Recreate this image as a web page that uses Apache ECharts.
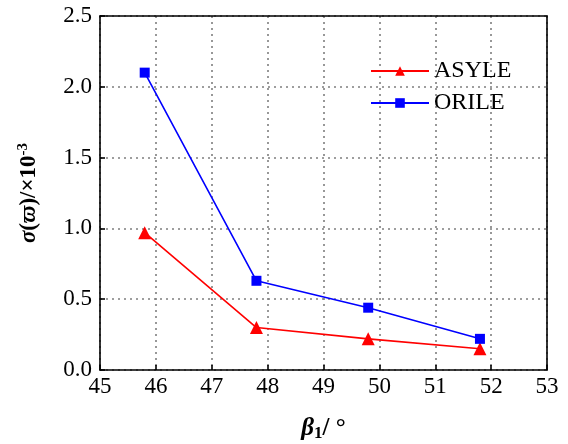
<!DOCTYPE html>
<html>
<head>
<meta charset="utf-8">
<script src="https://cdn.jsdelivr.net/npm/echarts@6/dist/echarts.min.js"></script>
<style>
  html, body { margin: 0; padding: 0; background: #fff; }
  #chart { width: 568px; height: 444px; }
</style>
</head>
<body>
<div id="chart"></div>
<script>
// Blade angle β1 (degrees) and the measured deviation for two profile designs
const beta1 = [45.8, 47.8, 49.8, 51.8];
const asyle = [0.97, 0.30, 0.22, 0.15];
const orile = [2.10, 0.63, 0.44, 0.22];

const xTicks = { min: 45, max: 53, interval: 1 };
const yTicks = { min: 0, max: 2.5, interval: 0.5 };

const FONT = '"Liberation Serif", serif';

const chart = echarts.init(document.getElementById('chart'), null, { renderer: 'canvas', width: 568, height: 444 });

const gridLine = { show: true, lineStyle: { color: '#7f7f7f', width: 1.6, type: [2, 4] } };
const frame = { show: true, onZero: false, lineStyle: { color: '#000', width: 1.6 } };
const tickText = { fontFamily: FONT, fontSize: 23, color: '#000' };

chart.setOption({
  animation: false,
  backgroundColor: '#fff',
  textStyle: { fontFamily: FONT },
  grid: { left: 100, width: 447, top: 16, height: 354, containLabel: false, outerBoundsMode: 'none' },
  legend: {
    left: 370, top: 59, padding: 0, orient: 'vertical', itemGap: 8,
    itemWidth: 58, itemHeight: 12,
    formatter: '{t|{name}}',
    textStyle: { fontFamily: FONT, fontSize: 24, color: '#000', rich: { t: { fontFamily: FONT, fontSize: 24, color: '#000' } } },
    data: ['ASYLE', 'ORILE']
  },
  xAxis: [{
    type: 'value', ...xTicks, position: 'bottom',
    axisLine: frame,
    axisTick: { show: true, inside: true, length: 5, lineStyle: { color: '#000', width: 1.6 } },
    axisLabel: { margin: 5, formatter: v => '{t|' + v + '}', rich: { t: tickText } },
    splitLine: gridLine,
    name: '{b|β}{s|1}{n|/ °}', nameLocation: 'middle', nameGap: 46,
    nameTextStyle: {
      rich: {
        b: { fontFamily: FONT, fontSize: 25, fontWeight: 'bold', fontStyle: 'italic', color: '#000' },
        s: { fontFamily: FONT, fontSize: 17, fontWeight: 'bold', color: '#000', verticalAlign: 'bottom', padding: [9, 0, 0, 0] },
        n: { fontFamily: FONT, fontSize: 25, fontWeight: 'bold', color: '#000' }
      }
    }
  }, {
    type: 'value', ...xTicks, position: 'top',
    axisLine: frame, axisTick: { show: false }, axisLabel: { show: false }, splitLine: { show: false }
  }],
  yAxis: [{
    type: 'value', ...yTicks, position: 'left',
    axisLine: frame,
    axisTick: { show: true, inside: true, length: 5, lineStyle: { color: '#000', width: 1.6 } },
    axisLabel: { margin: 8, formatter: v => '{t|' + v.toFixed(1) + '}', rich: { t: tickText } },
    splitLine: gridLine,
    name: '{i|σ}{n|(}{i|ϖ}{n|)/×10}{p|-3}', nameLocation: 'middle', nameGap: 58, nameRotate: 90,
    nameTextStyle: {
      rich: {
        i: { fontFamily: FONT, fontSize: 23, fontWeight: 'bold', fontStyle: 'italic', color: '#000' },
        n: { fontFamily: FONT, fontSize: 23, fontWeight: 'bold', color: '#000' },
        p: { fontFamily: FONT, fontSize: 15, fontWeight: 'bold', color: '#000', verticalAlign: 'top', padding: [0, 0, 11, 0] }
      }
    }
  }, {
    type: 'value', ...yTicks, position: 'right',
    axisLine: frame, axisTick: { show: false }, axisLabel: { show: false }, splitLine: { show: false }
  }],
  series: [{
    name: 'ASYLE', type: 'line',
    data: beta1.map((x, i) => [x, asyle[i]]),
    symbol: 'triangle', symbolSize: 13,
    itemStyle: { color: '#ff0000' },
    lineStyle: { color: '#ff0000', width: 1.6 }
  }, {
    name: 'ORILE', type: 'line',
    data: beta1.map((x, i) => [x, orile[i]]),
    symbol: 'rect', symbolSize: 10,
    itemStyle: { color: '#0000ff' },
    lineStyle: { color: '#0000ff', width: 1.6 }
  }]
});
</script>
</body>
</html>
